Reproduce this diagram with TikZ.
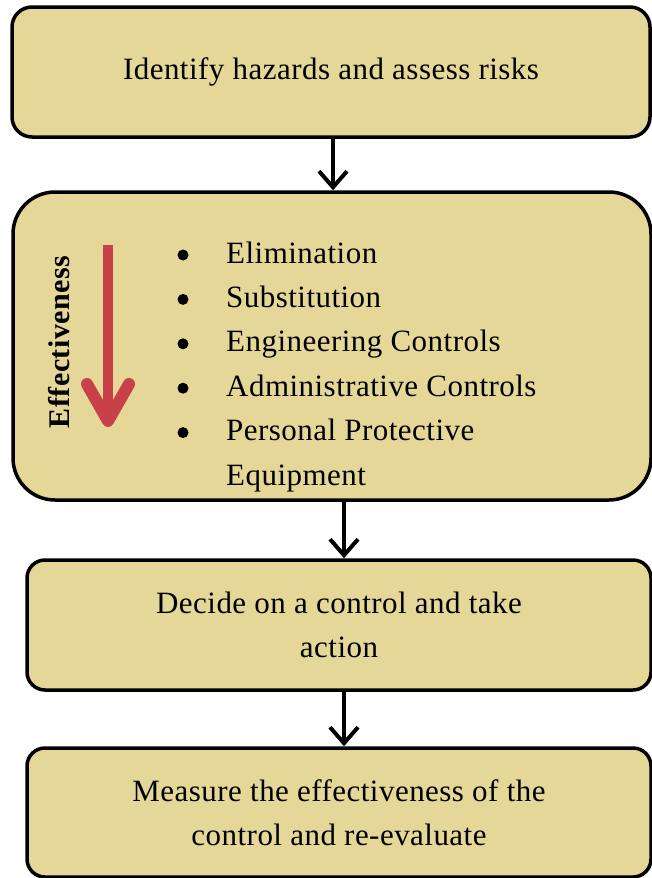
\documentclass[tikz,border=0pt]{standalone}
\usepackage{fontspec}
\setmainfont{Liberation Serif}[LetterSpace=1.5]
\usepackage{tikz}
\usetikzlibrary{arrows.meta,calc}
\definecolor{sabbia}{RGB}{228,215,152}
\definecolor{rosso}{RGB}{200,64,72}
\tikzset{
>={Straight Barb[length=16pt,width=28pt]},
blocco/.style={draw,fill=sabbia,line width=3.5pt,rounded corners=20pt,align=center,inner sep=0pt},
freccia/.style={->,line width=4pt},
voce/.style={anchor=base west,inner sep=0pt},
punto/.style={circle,fill=black,minimum size=11pt,inner sep=0pt}}

\begin{document}
\begin{tikzpicture}[x=1pt,y=-1pt,font=\fontsize{31}{44}\selectfont]
\useasboundingbox (0,0) rectangle (652,878);

      \node[blocco,minimum width=638pt,minimum height=130pt] (1) at (331,72) {Identify hazards and assess risks};
      \node[blocco,minimum width=638pt,minimum height=308pt,rounded corners=42pt] (2) at (332,346) {};
      \node[blocco,minimum width=624pt,minimum height=130pt,rounded corners=18pt] (3) at (339,625) {Decide on a control and take\\action};
      \node[blocco,minimum width=624pt,minimum height=129pt,rounded corners=18pt] (4) at (339,812.5) {Measure the effectiveness of the\\control and re-evaluate};

      \foreach \testo [count=\i] in {Elimination,Substitution,Engineering Controls,Administrative Controls,Personal Protective}{
        \node[punto] (p\i) at (183,{255+44.4*(\i-1)}) {};
        \node[voce] (v\i) at (226,{263+44.4*(\i-1)}) {\testo};
      }
      \node[voce] (v6) at (226,485) {Equipment};

      \node[rotate=90,font=\fontsize{30}{44}\selectfont\bfseries] (eff) at (59,342) {Effectiveness};

      \coordinate (a1) at (108,245);
      \coordinate (a2) at (108,421);
      \coordinate (a3) at (87,384);
      \coordinate (a4) at (129,384);
      \draw[rosso,line width=10pt] (a1) -- (a2);
      \draw[rosso,line width=12pt,line cap=round,line join=round] (a3) -- (a2) -- (a4);

      \draw[freccia] ([xshift=2pt]1.south) -- ([xshift=2pt]1.south |- 2.north);
      \draw[freccia] ([xshift=12pt]2.south) -- ([xshift=5pt]3.north);
      \draw[freccia] ([xshift=5pt]3.south) -- ([xshift=5pt]4.north);
\end{tikzpicture}
\end{document}
